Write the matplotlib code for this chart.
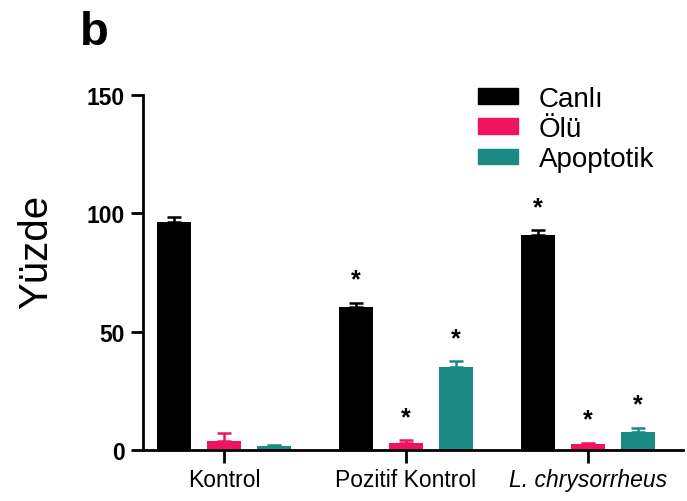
import matplotlib
matplotlib.use("Agg")
import matplotlib.pyplot as plt
from matplotlib.patches import Patch
import numpy as np

plt.rcParams['font.family'] = ['Liberation Sans', 'DejaVu Sans']

groups = ["Kontrol", "Pozitif Kontrol", "L. chrysorrheus"]
series_names = ["Canlı", "Ölü", "Apoptotik"]
canli = [96.5, 60.5, 91.0]
canli_err = [1.8, 1.7, 1.9]
olu = [3.6, 2.8, 2.6]
olu_err = [3.4, 1.3, 0.5]
apop = [1.5, 35.0, 7.6]
apop_err = [0.4, 2.6, 1.8]
# significance marks per series, per group
canli_sig = [False, True, True]
olu_sig = [False, True, True]
apop_sig = [False, True, True]

colors = ["#000000", "#F0145F", "#1B8A84"]

fig = plt.figure(figsize=(6.87, 5.02), dpi=100)
ax = fig.add_axes([0.208, 0.1016, 0.786, 0.7072])

x = np.arange(len(groups))
width = 0.187
offset = 0.275

series = [(canli, canli_err, canli_sig), (olu, olu_err, olu_sig), (apop, apop_err, apop_sig)]
for i, ((vals, errs, sig), col, name) in enumerate(zip(series, colors, series_names)):
    xs = x + (i - 1) * offset
    ax.bar(xs, vals, width=width, color=col, label=name, zorder=2)
    ax.errorbar(xs, vals, yerr=[np.zeros(len(vals)), errs], fmt='none',
                ecolor=col, elinewidth=1.8, capsize=5, capthick=1.8, zorder=3)
    for xi, v, e, s in zip(xs, vals, errs, sig):
        if s:
            ax.annotate("*", xy=(xi, v + e), xytext=(0, 8), textcoords='offset points',
                        ha='center', va='bottom', fontsize=18, fontweight='bold')

ax.set_xlim(-0.445, 2.52)
ax.set_ylim(0, 150)
ax.set_yticks([0, 50, 100, 150])
ax.set_xticks(x)
ax.set_xticklabels(groups, fontsize=16.5)
ax.get_xticklabels()[2].set_fontstyle('italic')
for lab in ax.get_yticklabels():
    lab.set_fontsize(16.5)
    lab.set_fontweight('bold')

for side in ['top', 'right']:
    ax.spines[side].set_visible(False)
for side in ['left', 'bottom']:
    ax.spines[side].set_linewidth(2.0)
ax.tick_params(axis='both', direction='out', length=9, width=2.0, pad=4)

ax.set_ylabel("Yüzde", fontsize=29)
ax.yaxis.set_label_coords(-0.163, 0.56)

handles = [Patch(facecolor=c, edgecolor=c) for c in colors]
ax.legend(handles, series_names, loc='upper left', bbox_to_anchor=(478 / 687, 1 - 87 / 502),
          bbox_transform=fig.transFigure, frameon=False, fontsize=20,
          handlelength=1.45, handleheight=0.5, handletextpad=0.75, labelspacing=0.15,
          borderpad=0, borderaxespad=0)

fig.text(80 / 687, 1 - 45 / 502, "b", fontsize=34, fontweight='bold', ha='left', va='baseline')

fig.savefig("out.png", dpi=100)
